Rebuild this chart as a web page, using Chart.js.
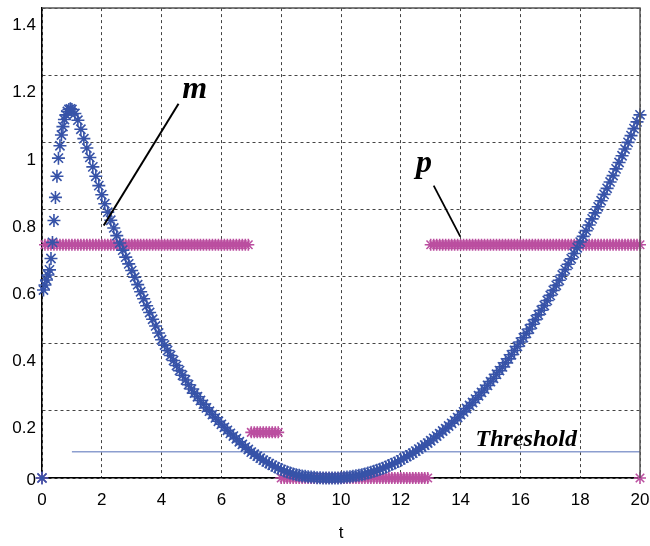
<!DOCTYPE html>
<html>
<head>
<meta charset="utf-8">
<script src="https://cdn.jsdelivr.net/npm/chart.js@4.4.1/dist/chart.umd.min.js"></script>
<style>
  html, body { margin: 0; padding: 0; background: #fff; }
</style>
</head>
<body>
<canvas id="chart" width="650" height="546"></canvas>
<script>
// ---- data ----
// m : blue series, fine sampling (0.05) for t = 0 .. 0.95
const mEarlyStep = 0.05;
const mEarly = [
  0, 0.560, 0.575, 0.590, 0.605, 0.620, 0.654, 0.702, 0.767, 0.836,
  0.899, 0.953, 0.990, 1.022, 1.047, 1.068, 1.082, 1.092, 1.098, 1.100
];
// m : blue series, sampling 0.1 for t = 1.0 .. 20.0
const mMainStart = 1.0;
const mMainStep = 0.1;
const mMain = [
  1.098, 1.086, 1.066, 1.039, 1.011, 0.983, 0.955, 0.927, 0.899, 0.871,
  0.844, 0.817, 0.792, 0.768, 0.745, 0.722, 0.700, 0.679, 0.658, 0.638,
  0.618, 0.598, 0.576, 0.555, 0.534, 0.513, 0.493, 0.473, 0.453, 0.432,
  0.412, 0.396, 0.380, 0.365, 0.350, 0.335, 0.320, 0.306, 0.292, 0.278,
  0.265, 0.253, 0.242, 0.231, 0.220, 0.209, 0.199, 0.189, 0.179, 0.169,
  0.160, 0.151, 0.142, 0.133, 0.125, 0.117, 0.108, 0.100, 0.092, 0.085,
  0.077, 0.071, 0.065, 0.059, 0.053, 0.048, 0.043, 0.038, 0.033, 0.029,
  0.025, 0.021, 0.018, 0.015, 0.012, 0.010, 0.008, 0.006, 0.005, 0.004,
  0.003, 0.002, 0.001, 0.001, 0.000, 0.000, 0.000, 0.000, 0.000, 0.000,
  0.001, 0.002, 0.003, 0.004, 0.005, 0.007, 0.008, 0.010, 0.012, 0.015,
  0.017, 0.020, 0.023, 0.026, 0.029, 0.033, 0.037, 0.041, 0.045, 0.049,
  0.054, 0.059, 0.064, 0.069, 0.074, 0.080, 0.086, 0.092, 0.098, 0.104,
  0.111, 0.118, 0.125, 0.132, 0.140, 0.147, 0.155, 0.163, 0.171, 0.180,
  0.189, 0.197, 0.207, 0.216, 0.225, 0.235, 0.245, 0.255, 0.265, 0.276,
  0.287, 0.297, 0.309, 0.320, 0.331, 0.343, 0.355, 0.367, 0.380, 0.392,
  0.405, 0.418, 0.431, 0.444, 0.458, 0.472, 0.486, 0.500, 0.514, 0.529,
  0.544, 0.559, 0.574, 0.589, 0.605, 0.621, 0.637, 0.653, 0.669, 0.686,
  0.703, 0.720, 0.737, 0.754, 0.772, 0.790, 0.808, 0.826, 0.845, 0.863,
  0.882, 0.901, 0.921, 0.940, 0.960, 0.980, 1.000, 1.020, 1.041, 1.061,
  1.082
];

// p : magenta series, sampling 0.1 for t = 0 .. 20.0
const pStep = 0.1;
const pValues = [
  0,
  0.695, 0.695, 0.695, 0.695, 0.695, 0.695, 0.695, 0.695, 0.695, 0.695,
  0.695, 0.695, 0.695, 0.695, 0.695, 0.695, 0.695, 0.695, 0.695, 0.695,
  0.695, 0.695, 0.695, 0.695, 0.695, 0.695, 0.695, 0.695, 0.695, 0.695,
  0.695, 0.695, 0.695, 0.695, 0.695, 0.695, 0.695, 0.695, 0.695, 0.695,
  0.695, 0.695, 0.695, 0.695, 0.695, 0.695, 0.695, 0.695, 0.695, 0.695,
  0.695, 0.695, 0.695, 0.695, 0.695, 0.695, 0.695, 0.695, 0.695, 0.695,
  0.695, 0.695, 0.695, 0.695, 0.695, 0.695, 0.695, 0.695, 0.695,
  0.136, 0.136, 0.136, 0.136, 0.136, 0.136, 0.136, 0.136, 0.136, 0.136,
  0, 0, 0, 0, 0, 0, 0, 0, 0, 0,
  0, 0, 0, 0, 0, 0, 0, 0, 0, 0,
  0, 0, 0, 0, 0, 0, 0, 0, 0, 0,
  0, 0, 0, 0, 0, 0, 0, 0, 0, 0,
  0, 0, 0, 0, 0, 0, 0, 0, 0, 0,
  0.695, 0.695, 0.695, 0.695, 0.695, 0.695, 0.695, 0.695, 0.695, 0.695,
  0.695, 0.695, 0.695, 0.695, 0.695, 0.695, 0.695, 0.695, 0.695, 0.695,
  0.695, 0.695, 0.695, 0.695, 0.695, 0.695, 0.695, 0.695, 0.695, 0.695,
  0.695, 0.695, 0.695, 0.695, 0.695, 0.695, 0.695, 0.695, 0.695, 0.695,
  0.695, 0.695, 0.695, 0.695, 0.695, 0.695, 0.695, 0.695, 0.695, 0.695,
  0.695, 0.695, 0.695, 0.695, 0.695, 0.695, 0.695, 0.695, 0.695, 0.695,
  0.695, 0.695, 0.695, 0.695, 0.695, 0.695, 0.695, 0.695, 0.695, 0.695,
  0.695
];
const pEndPoint = [20, 0];

// threshold line
const thresholdValue = 0.078;
const thresholdRange = [1, 20];

// axes
const xTicks = [0, 2, 4, 6, 8, 10, 12, 14, 16, 18, 20];
const yTicks = [0, 0.2, 0.4, 0.6, 0.8, 1, 1.2, 1.4];
const yTickLabels = ['0', '0.2', '0.4', '0.6', '0.8', '1', '1.2', '1.4'];

// ---- build points ----
const mPoints = [];
mEarly.forEach((v, i) => mPoints.push({ x: i * mEarlyStep, y: v }));
mMain.forEach((v, i) => mPoints.push({ x: mMainStart + i * mMainStep, y: v }));

const pPoints = pValues.map((v, i) => ({ x: i * pStep, y: v }));
pPoints.push({ x: pEndPoint[0], y: pEndPoint[1] });

const thrPoints = thresholdRange.map(t => ({ x: t, y: thresholdValue }));

const sansFont = '"Liberation Sans", Arial, Helvetica, sans-serif';
const serifFont = '"Liberation Serif", "Times New Roman", serif';

// y labels (shifted as in the original figure), box, annotations
const decorPlugin = {
  id: 'decor',
  afterDraw(chart) {
    const { ctx, chartArea: a, scales: { x, y } } = chart;
    ctx.save();

    // top and right frame
    ctx.strokeStyle = '#555';
    ctx.lineWidth = 1.5;
    ctx.beginPath();
    ctx.moveTo(a.left, a.top);
    ctx.lineTo(a.right, a.top);
    ctx.lineTo(a.right, a.bottom);
    ctx.stroke();

    // y tick labels
    ctx.fillStyle = '#000';
    ctx.font = '17px ' + sansFont;
    ctx.textAlign = 'right';
    ctx.textBaseline = 'middle';
    yTicks.forEach((v, i) => {
      const py = y.getPixelForValue(v) + (v === 0 ? 2 : 17.5);
      ctx.fillText(yTickLabels[i], a.left - 6, py);
    });

    // leader lines
    ctx.strokeStyle = '#000';
    ctx.lineWidth = 2;
    ctx.beginPath();
    ctx.moveTo(x.getPixelForValue(4.566), y.getPixelForValue(1.115));
    ctx.lineTo(x.getPixelForValue(2.064), y.getPixelForValue(0.752));
    ctx.stroke();
    ctx.lineWidth = 1.8;
    ctx.beginPath();
    ctx.moveTo(x.getPixelForValue(13.10), y.getPixelForValue(0.871));
    ctx.lineTo(x.getPixelForValue(13.99), y.getPixelForValue(0.719));
    ctx.stroke();

    // labels
    ctx.textAlign = 'left';
    ctx.textBaseline = 'alphabetic';
    ctx.font = 'italic bold 32px ' + serifFont;
    ctx.fillText('m', x.getPixelForValue(4.69), y.getPixelForValue(1.133));
    ctx.fillText('p', x.getPixelForValue(12.51), y.getPixelForValue(0.911));
    ctx.font = 'italic bold 24px ' + serifFont;
    ctx.fillText('Threshold', x.getPixelForValue(14.50), y.getPixelForValue(0.095));

    ctx.restore();
  }
};

const gridOpts = { color: '#444', lineWidth: 1, drawTicks: false };
const borderOpts = { display: true, color: '#000', width: 1.5, dash: [3, 3] };

new Chart(document.getElementById('chart'), {
  type: 'scatter',
  data: {
    datasets: [
      {
        label: 'm',
        data: mPoints,
        showLine: false,
        pointStyle: 'star',
        pointRadius: 6.5,
        pointBorderWidth: 1.6,
        borderColor: '#3753A8',
        backgroundColor: '#3753A8',
        clip: false
      },
      {
        label: 'p',
        data: pPoints,
        showLine: false,
        pointStyle: 'star',
        pointRadius: 6,
        pointBorderWidth: 1.6,
        borderColor: '#BB4FA0',
        backgroundColor: '#BB4FA0',
        clip: false
      },
      {
        label: 'Threshold',
        data: thrPoints,
        showLine: true,
        pointRadius: 0,
        borderColor: '#8C9ECF',
        borderWidth: 1.6
      }
    ]
  },
  options: {
    responsive: false,
    animation: false,
    events: [],
    layout: { padding: { top: 7, right: 10, left: 0, bottom: 0 } },
    plugins: {
      legend: { display: false },
      tooltip: { enabled: false }
    },
    scales: {
      x: {
        type: 'linear',
        min: 0,
        max: 20,
        afterBuildTicks: s => { s.ticks = xTicks.map(v => ({ value: v })); },
        ticks: {
          color: '#000',
          font: { family: sansFont, size: 17 },
          padding: 12,
          maxRotation: 0
        },
        grid: gridOpts,
        border: borderOpts,
        title: {
          display: true,
          text: 't',
          color: '#000',
          font: { family: sansFont, size: 17 },
          padding: { top: 4, bottom: 2 }
        },
        afterFit: s => { s.height = 68; s.paddingLeft = 0; s.paddingRight = 0; }
      },
      y: {
        type: 'linear',
        min: 0,
        max: 1.4,
        afterBuildTicks: s => { s.ticks = yTicks.map(v => ({ value: v })); },
        ticks: { display: false },
        grid: gridOpts,
        border: borderOpts,
        afterFit: s => { s.width = 42; }
      }
    }
  },
  plugins: [decorPlugin]
});
</script>
</body>
</html>
